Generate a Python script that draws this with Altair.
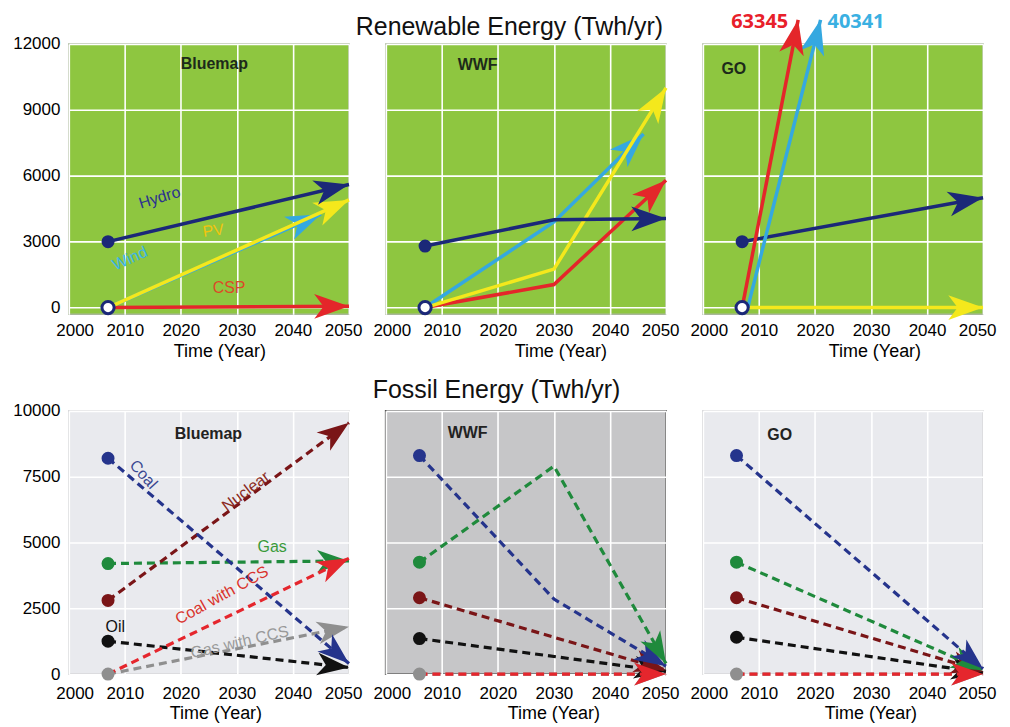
import math
import altair as alt
import pandas as pd

# ---------------- data ----------------
year_ticks = [2000, 2010, 2020, 2030, 2040, 2050]
ren_ticks = [0, 3000, 6000, 9000, 12000]
fos_ticks = [0, 2500, 5000, 7500, 10000]

# Renewable energy (TWh/yr) - Bluemap
bm_hydro_x = [2007, 2050]
bm_hydro_y = [3000, 5600]
bm_wind_x = [2007, 2045]
bm_wind_y = [0, 4250]
bm_pv_x = [2007, 2050]
bm_pv_y = [0, 4900]
bm_csp_x = [2007, 2050]
bm_csp_y = [0, 60]
# Renewable - WWF
ww_hydro_x = [2007, 2030, 2050]
ww_hydro_y = [2800, 4000, 4050]
ww_wind_x = [2007, 2030, 2046]
ww_wind_y = [0, 3900, 7900]
ww_pv_x = [2007, 2030, 2050]
ww_pv_y = [0, 1750, 10000]
ww_csp_x = [2007, 2030, 2050]
ww_csp_y = [0, 1050, 5800]
# Renewable - GO (CSP and wind leave the plot; their 2050 values are printed)
go_hydro_x = [2007, 2050]
go_hydro_y = [3000, 5000]
go_wind_x = [2008, 2021]
go_wind_y = [0, 13100]
go_pv_x = [2007, 2050]
go_pv_y = [0, 0]
go_csp_x = [2007, 2017]
go_csp_y = [0, 13100]
go_csp_2050 = "63345"
go_wind_2050 = "40341"

# Fossil energy (TWh/yr) - Bluemap
bf_coal_x = [2007, 2050]
bf_coal_y = [8200, 400]
bf_nuclear_x = [2007, 2050]
bf_nuclear_y = [2800, 9550]
bf_gas_x = [2007, 2050]
bf_gas_y = [4200, 4300]
bf_coalccs_x = [2007, 2050]
bf_coalccs_y = [0, 4400]
bf_oil_x = [2007, 2050]
bf_oil_y = [1250, 250]
bf_gasccs_x = [2007, 2050]
bf_gasccs_y = [0, 1800]
# Fossil - WWF
wf_coal_x = [2006, 2030, 2050]
wf_coal_y = [8300, 2850, 300]
wf_gas_x = [2006, 2030, 2050]
wf_gas_y = [4250, 7900, 400]
wf_nuclear_x = [2006, 2050]
wf_nuclear_y = [2900, 150]
wf_oil_x = [2006, 2050]
wf_oil_y = [1350, 100]
wf_gasccs_x = [2006, 2050]
wf_gasccs_y = [0, 0]
wf_coalccs_x = [2006, 2050]
wf_coalccs_y = [0, 0]
# Fossil - GO
gf_coal_x = [2006, 2050]
gf_coal_y = [8300, 200]
gf_gas_x = [2006, 2050]
gf_gas_y = [4250, 150]
gf_nuclear_x = [2006, 2050]
gf_nuclear_y = [2900, 100]
gf_oil_x = [2006, 2050]
gf_oil_y = [1400, 50]
gf_gasccs_x = [2006, 2050]
gf_gasccs_y = [0, 0]
gf_coalccs_x = [2006, 2050]
gf_coalccs_y = [0, 0]

# series-name annotations (data coordinates)
ren_lbl_text = ["Hydro", "PV", "Wind", "CSP"]
ren_lbl_x = [2016.2, 2025.8, 2010.9, 2028.6]
ren_lbl_y = [5000, 3500, 2230, 910]
fos_lbl_text = ["Coal", "Nuclear", "Gas", "Coal with CCS", "Oil", "Gas with CCS"]
fos_lbl_x = [2013.3, 2031.6, 2036.3, 2027.3, 2008.3, 2030.5]
fos_lbl_y = [7580, 6940, 4810, 2990, 1780, 1210]

# ---------------- styling ----------------
W = 281
H_TOP, H_BOT = 271, 264
REN_DOM = [-300, 12000]
FOS_DOM = [0, 10000]
FONT = "Liberation Sans"
ARROW = "M0,0L-1,2.8L0,2.05L1,2.8Z"

REN_COL = {"Hydro": "#1b2878", "Wind": "#35a8e0", "PV": "#f4e81c", "CSP": "#e4262a"}
FOS_COL = {"Coal": "#25348c", "Nuclear": "#7a1517", "Gas": "#1f8a3c",
           "Coal with CCS": "#e5262d", "Oil": "#111111", "Gas with CCS": "#8f8f8f"}
ren_lbl_color = ["#2b3290", "#f1c40f", "#3cb4e6", "#dc4a28"]
ren_lbl_angle = [343, 352, 336, 0]
fos_lbl_color = ["#3a4790", "#8b2a22", "#3a9a3a", "#d9322b", "#111111", "#9a9a9a"]
fos_lbl_angle = [48, 323, 0, 331, 0, 347]


def head_angle(xs, ys, dom, H):
    kx = W / 50.0
    ky = H / float(dom[1] - dom[0])
    dx = (xs[-1] - xs[-2]) * kx
    dy = (ys[-1] - ys[-2]) * ky
    return math.degrees(math.atan2(dx, dy)) % 360


def encs(dom, H, ticks, show_y, title_x, title_y, lab_pad):
    X = alt.X("x:Q", scale=alt.Scale(domain=[2000, 2050], nice=False, zero=False),
              axis=alt.Axis(values=year_ticks, format="d", title="Time (Year)",
                            labelFont=FONT, labelFontSize=17, labelColor="black",
                            labelFlush=True, labelFlushOffset=13, labelPadding=lab_pad,
                            labelOverlap=False,
                            ticks=False, domain=False, grid=True, gridColor="white",
                            gridWidth=1.6, gridOpacity=1,
                            titleFont=FONT, titleFontSize=18, titleFontWeight="normal",
                            titleColor="black", titleX=title_x, titleY=title_y,
                            titleAlign="center", titleBaseline="alphabetic"))
    Y = alt.Y("y:Q", scale=alt.Scale(domain=dom, nice=False, zero=False),
              axis=alt.Axis(values=ticks, format="d", title=None, labels=show_y,
                            labelFont=FONT, labelFontSize=17, labelColor="black",
                            labelPadding=9, labelFlush=False, labelOverlap=False,
                            ticks=False, domain=False, grid=True, gridColor="white",
                            gridWidth=1.6, gridOpacity=1))
    return X, Y


def panel(series, colors, dom, H, ticks, show_y, dashed, lw, hsize,
          starts, open_start, name, name_xy, name_color, bg, border, bw,
          title_x, title_y, lab_pad, labels=None, extras=()):
    X, Y = encs(dom, H, ticks, show_y, title_x, title_y, lab_pad)
    layers = []
    for key, xs, ys in series:
        df = pd.DataFrame({"x": xs, "y": ys})
        kw = dict(color=colors[key], strokeWidth=lw, strokeCap="butt")
        if dashed:
            kw["strokeDash"] = [8, 5]
        layers.append(alt.Chart(df).mark_line(**kw).encode(x=X, y=Y))
        hd = pd.DataFrame({"x": [xs[-1]], "y": [ys[-1]], "a": [head_angle(xs, ys, dom, H)]})
        layers.append(alt.Chart(hd).mark_point(shape=ARROW, filled=True, color=colors[key],
                                               size=hsize, opacity=1, strokeWidth=0)
                      .encode(x=X, y=Y, angle=alt.Angle("a:Q", scale=None)))
    if starts:
        sd = pd.DataFrame({"x": [s[1] for s in starts], "y": [s[2] for s in starts],
                           "c": [colors[s[0]] for s in starts]})
        layers.append(alt.Chart(sd).mark_point(shape="circle", filled=True, size=170, opacity=1)
                      .encode(x=X, y=Y, color=alt.Color("c:N", scale=None)))
    if open_start:
        od = pd.DataFrame({"x": [open_start[0]], "y": [open_start[1]]})
        layers.append(alt.Chart(od).mark_point(shape="circle", filled=True, fill="white",
                                               stroke="#1b2878", strokeWidth=3, size=150, opacity=1)
                      .encode(x=X, y=Y))
    if labels is not None:
        ld = pd.DataFrame(labels)
        layers.append(alt.Chart(ld).mark_text(font=FONT, fontSize=16)
                      .encode(x=X, y=Y, text="t:N", color=alt.Color("c:N", scale=None),
                              angle=alt.Angle("a:Q", scale=None)))
    nd = pd.DataFrame({"t": [name]})
    layers.append(alt.Chart(nd).mark_text(font=FONT, fontSize=16, fontWeight="bold",
                                          color=name_color, baseline="middle", align="center")
                  .encode(text="t:N", x=alt.value(name_xy[0]), y=alt.value(name_xy[1])))
    for e in extras:
        layers.append(e(X, Y))
    return alt.layer(*layers).properties(
        width=W, height=H,
        view=alt.ViewBackground(fill=bg, stroke=border, strokeWidth=bw))


def section_title(text, cx, by):
    def f(X, Y):
        return (alt.Chart(pd.DataFrame({"t": [text]}))
                .mark_text(font=FONT, fontSize=25, color="#111111", align="center",
                           baseline="alphabetic")
                .encode(text="t:N", x=alt.value(cx), y=alt.value(by)))
    return f


def tip_label(xs, ys, text, color, align, dx):
    def f(X, Y):
        d = pd.DataFrame({"x": [xs[-1]], "y": [ys[-1]], "t": [text]})
        return (alt.Chart(d).mark_text(font="Open Sans", fontSize=20, fontWeight="bold",
                                       color=color, align=align, baseline="alphabetic",
                                       dx=dx, dy=8)
                .encode(x=X, y=Y, text="t:N"))
    return f


GREEN = "#8ec640"
GBORDER = "#a9b79a"

ren_labels = {"x": ren_lbl_x, "y": ren_lbl_y, "t": ren_lbl_text,
              "c": ren_lbl_color, "a": ren_lbl_angle}
fos_labels = {"x": fos_lbl_x, "y": fos_lbl_y, "t": fos_lbl_text,
              "c": fos_lbl_color, "a": fos_lbl_angle}

p1 = panel([("CSP", bm_csp_x, bm_csp_y), ("Wind", bm_wind_x, bm_wind_y),
            ("PV", bm_pv_x, bm_pv_y), ("Hydro", bm_hydro_x, bm_hydro_y)],
           REN_COL, REN_DOM, H_TOP, ren_ticks, True, False, 3.5, 620,
           [("Hydro", bm_hydro_x[0], bm_hydro_y[0])], (bm_pv_x[0], bm_pv_y[0]),
           "Bluemap", (146, 20), "#1d2a1a", GREEN, GBORDER, 1.5, 151, 42, 8,
           labels=ren_labels)
p2 = panel([("CSP", ww_csp_x, ww_csp_y), ("Wind", ww_wind_x, ww_wind_y),
            ("PV", ww_pv_x, ww_pv_y), ("Hydro", ww_hydro_x, ww_hydro_y)],
           REN_COL, REN_DOM, H_TOP, ren_ticks, False, False, 3.5, 620,
           [("Hydro", ww_hydro_x[0], ww_hydro_y[0])], (ww_pv_x[0], ww_pv_y[0]),
           "WWF", (92, 21), "#1d2a1a", GREEN, GBORDER, 1.5, 175, 42, 8,
           extras=[section_title("Renewable Energy (Twh/yr)", 124, -9)])
p3 = panel([("PV", go_pv_x, go_pv_y), ("Hydro", go_hydro_x, go_hydro_y),
            ("Wind", go_wind_x, go_wind_y), ("CSP", go_csp_x, go_csp_y)],
           REN_COL, REN_DOM, H_TOP, ren_ticks, False, False, 3.5, 620,
           [("Hydro", go_hydro_x[0], go_hydro_y[0])], (go_pv_x[0], go_pv_y[0]),
           "GO", (31, 25), "#1d2a1a", GREEN, GBORDER, 1.5, 172, 42, 8,
           extras=[tip_label(go_csp_x, go_csp_y, go_csp_2050, "#e8202a", "right", -10),
                   tip_label(go_wind_x, go_wind_y, go_wind_2050, "#3ab0e2", "left", 7)])

p4 = panel([("Gas with CCS", bf_gasccs_x, bf_gasccs_y), ("Oil", bf_oil_x, bf_oil_y),
            ("Gas", bf_gas_x, bf_gas_y), ("Coal with CCS", bf_coalccs_x, bf_coalccs_y),
            ("Nuclear", bf_nuclear_x, bf_nuclear_y), ("Coal", bf_coal_x, bf_coal_y)],
           FOS_COL, FOS_DOM, H_BOT, fos_ticks, True, True, 3.2, 520,
           [("Coal", bf_coal_x[0], bf_coal_y[0]), ("Gas", bf_gas_x[0], bf_gas_y[0]),
            ("Nuclear", bf_nuclear_x[0], bf_nuclear_y[0]), ("Oil", bf_oil_x[0], bf_oil_y[0]),
            ("Gas with CCS", bf_gasccs_x[0], bf_gasccs_y[0])], None,
           "Bluemap", (140, 23), "#222222", "#e9eaee", "#c8c9cc", 1.5, 147, 45, 11,
           labels=fos_labels)
p5 = panel([("Gas with CCS", wf_gasccs_x, wf_gasccs_y), ("Oil", wf_oil_x, wf_oil_y),
            ("Nuclear", wf_nuclear_x, wf_nuclear_y), ("Coal", wf_coal_x, wf_coal_y),
            ("Gas", wf_gas_x, wf_gas_y), ("Coal with CCS", wf_coalccs_x, wf_coalccs_y)],
           FOS_COL, FOS_DOM, H_BOT, fos_ticks, False, True, 3.2, 520,
           [("Coal", wf_coal_x[0], wf_coal_y[0]), ("Gas", wf_gas_x[0], wf_gas_y[0]),
            ("Nuclear", wf_nuclear_x[0], wf_nuclear_y[0]), ("Oil", wf_oil_x[0], wf_oil_y[0]),
            ("Gas with CCS", wf_gasccs_x[0], wf_gasccs_y[0])], None,
           "WWF", (82, 22), "#222222", "#c6c6c8", "#555555", 2, 168, 45, 11,
           extras=[section_title("Fossil Energy (Twh/yr)", 111, -13)])
p6 = panel([("Gas with CCS", gf_gasccs_x, gf_gasccs_y), ("Oil", gf_oil_x, gf_oil_y),
            ("Nuclear", gf_nuclear_x, gf_nuclear_y), ("Gas", gf_gas_x, gf_gas_y),
            ("Coal", gf_coal_x, gf_coal_y), ("Coal with CCS", gf_coalccs_x, gf_coalccs_y)],
           FOS_COL, FOS_DOM, H_BOT, fos_ticks, False, True, 3.2, 520,
           [("Coal", gf_coal_x[0], gf_coal_y[0]), ("Gas", gf_gas_x[0], gf_gas_y[0]),
            ("Nuclear", gf_nuclear_x[0], gf_nuclear_y[0]), ("Oil", gf_oil_x[0], gf_oil_y[0]),
            ("Gas with CCS", gf_gasccs_x[0], gf_gasccs_y[0])], None,
           "GO", (77, 24), "#222222", "#e9eaee", "#c8c9cc", 1.5, 168, 45, 11)

chart = alt.concat(p1, p2, p3, p4, p5, p6, columns=3,
                   spacing={"row": 97, "column": 37}, bounds="flush").properties(
    padding={"left": 3, "top": 2, "right": 5, "bottom": 5},
    background="white",
)

chart.save("out.html", embed_options={"renderer": "svg", "actions": False})
